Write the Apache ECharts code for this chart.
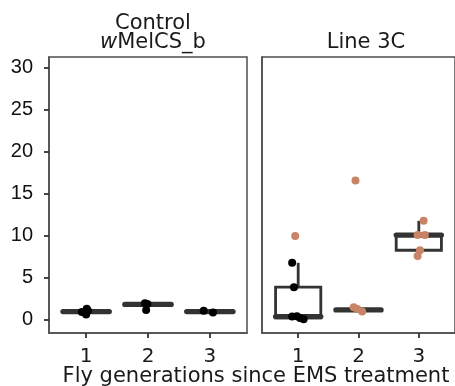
<!DOCTYPE html>
<html><head><meta charset="utf-8">
<script src="https://cdn.jsdelivr.net/npm/echarts@6/dist/echarts.min.js"></script>
<style>html,body{margin:0;padding:0;background:#fff}#c{width:455px;height:386px}</style>
</head><body><div id="c"></div>
<script>
// ---- data ----
var generations = [1, 2, 3];
var yTicks = [0, 5, 10, 15, 20, 25, 30];
var panelTitles = ['Control', 'wMelCS_b', 'Line 3C'];
var xTitle = 'Fly generations since EMS treatment';
// box stats: [generation, min, q1, median, q3, max]
var controlBoxes = [[1, 1.0, 1.0, 1.0, 1.0, 1.0], [2, 1.85, 1.85, 1.85, 1.85, 1.85], [3, 1.0, 1.0, 1.0, 1.0, 1.0]];
var lineBoxes = [[1, 0.1, 0.25, 0.4, 3.9, 6.8], [2, 1.05, 1.2, 1.2, 1.22, 1.5], [3, 7.6, 8.3, 10.1, 10.2, 11.8]];
// points: [jittered generation, value]
var controlPoints = [[1.01, 1.35], [0.93, 0.95], [1.0, 0.65], [1.03, 1.1], [1.95, 2.0], [1.99, 1.9], [1.97, 1.2], [2.9, 1.1], [3.05, 0.9]];
var lineBlackPoints = [[0.9, 6.8], [0.93, 3.9], [0.9, 0.4], [0.98, 0.45], [1.03, 0.25], [1.09, 0.1]];
var lineOrangePoints = [[0.95, 10.0], [1.95, 16.6], [1.92, 1.5], [1.98, 1.3], [2.06, 1.0], [2.98, 10.1], [3.1, 10.1], [3.02, 8.3], [2.98, 7.6], [3.08, 11.8]];

var chart = echarts.init(document.getElementById('c'), null, {renderer: 'canvas'});
var dark = '#333333';
function renderBox(params, api) {
  var x = api.value(0);
  var pMin = api.coord([x, api.value(1)]);
  var pQ1 = api.coord([x, api.value(2)]);
  var pMed = api.coord([x, api.value(3)]);
  var pQ3 = api.coord([x, api.value(4)]);
  var pMax = api.coord([x, api.value(5)]);
  var w = api.size([0.75, 0])[0];
  var cx = pMed[0];
  return {type: 'group', children: [
    {type: 'line', shape: {x1: cx, y1: pQ3[1], x2: cx, y2: pMax[1]}, style: {stroke: dark, lineWidth: 2.8}},
    {type: 'line', shape: {x1: cx, y1: pQ1[1], x2: cx, y2: pMin[1]}, style: {stroke: dark, lineWidth: 2.8}},
    {type: 'rect', shape: {x: cx - w / 2, y: pQ3[1], width: w, height: pQ1[1] - pQ3[1]}, style: {stroke: dark, lineWidth: 2.8, fill: '#fff'}},
    {type: 'line', shape: {x1: cx - w / 2, y1: pMed[1], x2: cx + w / 2, y2: pMed[1]}, style: {stroke: dark, lineWidth: 5.2, lineCap: 'round'}}
  ]};
}
function xAxis(gi) {
  return {type: 'value', gridIndex: gi, min: 0.4, max: 3.6,
    axisLine: {show: true, onZero: false, lineStyle: {color: '#4d4d4d', width: 1.5}},
    axisTick: {show: true, customValues: generations, length: 5, lineStyle: {color: dark, width: 1.8}},
    axisLabel: {show: true, customValues: generations, fontFamily: 'DejaVu Sans', fontSize: 20, color: '#1a1a1a', margin: 14},
    splitLine: {show: false}};
}
function yAxis(gi, labels) {
  return {type: 'value', gridIndex: gi, min: -1.55, max: 31.3,
    axisLine: {show: true, onZero: false, lineStyle: {color: '#4d4d4d', width: 1.5}},
    axisTick: {show: labels, customValues: yTicks, length: 5, lineStyle: {color: dark, width: 1.8}},
    axisLabel: {show: labels, customValues: yTicks, fontFamily: 'Liberation Sans', fontSize: 20, color: '#111', margin: 16},
    splitLine: {show: false}};
}
var tStyle = {fontFamily: 'DejaVu Sans', fontSize: 21, fontWeight: 'normal', color: '#1a1a1a'};
chart.setOption({
  animation: false,
  backgroundColor: '#fff',
  grid: [
    {left: 49, top: 57, width: 198, height: 276, show: true, borderColor: '#4d4d4d', borderWidth: 1.5, backgroundColor: '#fff'},
    {left: 262, top: 57, width: 198, height: 276, show: true, borderColor: '#4d4d4d', borderWidth: 1.5, backgroundColor: '#fff'}
  ],
  xAxis: [xAxis(0), xAxis(1)],
  yAxis: [yAxis(0, true), yAxis(1, false)],
  title: [
    {text: panelTitles[0], left: 148, top: 8, textAlign: 'center', textStyle: tStyle},
    {text: '{i|w}' + panelTitles[1].slice(1), left: 148, top: 27, textAlign: 'center', textStyle: Object.assign({}, tStyle, {rich: {i: {fontStyle: 'italic', fontFamily: 'DejaVu Sans', fontSize: 21, color: '#1a1a1a'}}})},
    {text: panelTitles[2], left: 361, top: 27, textAlign: 'center', textStyle: tStyle},
    {text: xTitle, left: 251, top: 361, textAlign: 'center', textStyle: tStyle}
  ],
  series: [
    {type: 'custom', xAxisIndex: 0, yAxisIndex: 0, renderItem: renderBox, data: controlBoxes, z: 2},
    {type: 'custom', xAxisIndex: 1, yAxisIndex: 1, renderItem: renderBox, data: lineBoxes, z: 2},
    {type: 'scatter', xAxisIndex: 0, yAxisIndex: 0, data: controlPoints, symbolSize: 8, itemStyle: {color: '#000', opacity: 1}, z: 3},
    {type: 'scatter', xAxisIndex: 1, yAxisIndex: 1, data: lineBlackPoints, symbolSize: 8, itemStyle: {color: '#000', opacity: 1}, z: 3},
    {type: 'scatter', xAxisIndex: 1, yAxisIndex: 1, data: lineOrangePoints, symbolSize: 8, itemStyle: {color: '#C98467', opacity: 1}, z: 3}
  ]
});
</script></body></html>
